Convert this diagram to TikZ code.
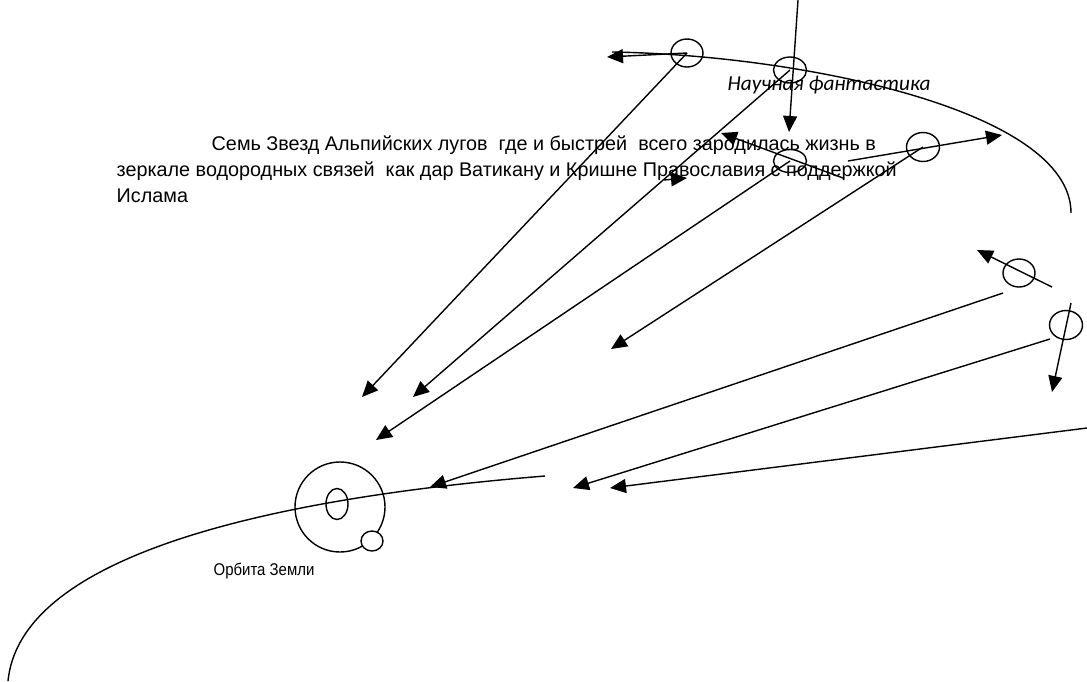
\documentclass[tikz,border=0pt]{standalone}
\usepackage{fontspec}
\setmainfont{Liberation Sans}
\newfontfamily\narrow[FakeStretch=0.88]{Liberation Sans}
\newfontfamily\calib{Carlito}
\usetikzlibrary{arrows.meta,shapes.geometric}

\tikzset{
	orb/.style={draw, ellipse, inner sep=0pt},
	arr/.style={-{Triangle[length=16pt,width=14pt]}},
	txt/.style={anchor=base west, inner sep=0pt, font=\fontsize{19.8}{26}\selectfont},
}

\begin{document}
\begin{tikzpicture}[x=1pt, y=-1pt, line width=1.4pt]
	\def\W{1087}
	\def\H{681}
	\useasboundingbox (0,0) rectangle (\W,\H);

	%轨道
	\draw (8,681) .. controls (20,560) and (250,500) .. (545,476);
	\draw (612,52) .. controls (800,55) and (1071,110) .. (1071,213);

	%小椭圆
	\foreach \n/\x/\y/\w/\h in {1/687/53/32/28, 2/790/70/33/26, 3/790/161/33/23,
		4/923/147/33/29, 5/1019/273/32/28, 6/1066/325/33/29}
		\node [orb, minimum width=\w pt, minimum height=\h pt] (E\n) at (\x,\y) {};

	%地球
	\node [draw, circle, minimum size=90pt, inner sep=0pt] (earth) at (340,507) {};
	\node [orb, minimum width=22pt, minimum height=31pt] (core) at (337,504) {};
	\node [orb, fill=white, minimum width=22pt, minimum height=20pt] (moon) at (372,541) {};

	%箭头端点
	\coordinate (a1) at (607,57);
	\coordinate (a2) at (362,397);
	\coordinate (a3) at (413,397);
	\coordinate (a4) at (376,440);
	\coordinate (a5) at (611,349);
	\coordinate (top) at (798,0);
	\coordinate (a6) at (789,132);
	\coordinate (b1) at (843,178);
	\coordinate (a7) at (721,133);
	\coordinate (b2) at (848,161);
	\coordinate (a8) at (1002,135);
	\coordinate (b3) at (1052,287);
	\coordinate (a9) at (977,250);
	\coordinate (b4) at (1071,303);
	\coordinate (a10) at (1052,392);
	\coordinate (b5) at (1003,293);
	\coordinate (a11) at (430,487);
	\coordinate (b6) at (1050,339);
	\coordinate (a12) at (573,488);
	\coordinate (b7) at (\W,428);
	\coordinate (a13) at (610,488);
	\coordinate (b8) at (664,180);
	\coordinate (a14) at (687,178);

	%箭头
	\foreach \s/\t in {E1.center/a1, E1.center/a2, E2.center/a3, E3.center/a4, E4.center/a5,
		top/a6, b1/a7, b2/a8, b3/a9, b4/a10, b5/a11, b6/a12, b7/a13, b8/a14}
		\draw [arr] (\s) -- (\t);

	%文字
	\node [txt] (l1) at (211,150) {Семь Звезд Альпийских лугов\ \ где и быстрей\ \ всего зародилась жизнь в};
	\node [txt] (l2) at (116,176) {зеркале водородных связей\ \ как дар Ватикану и Кришне Православия с поддержкой};
	\node [txt] (l3) at (116,202) {Ислама};
	\node [anchor=base west, inner sep=0pt, font=\calib\itshape\fontsize{21.3}{25}\selectfont] (sf) at (727,90) {Научная фантастика};
	\node [anchor=base, inner sep=0pt, font=\narrow\fontsize{17}{20}\selectfont] (orbit) at (264,575) {Орбита Земли};
\end{tikzpicture}
\end{document}
